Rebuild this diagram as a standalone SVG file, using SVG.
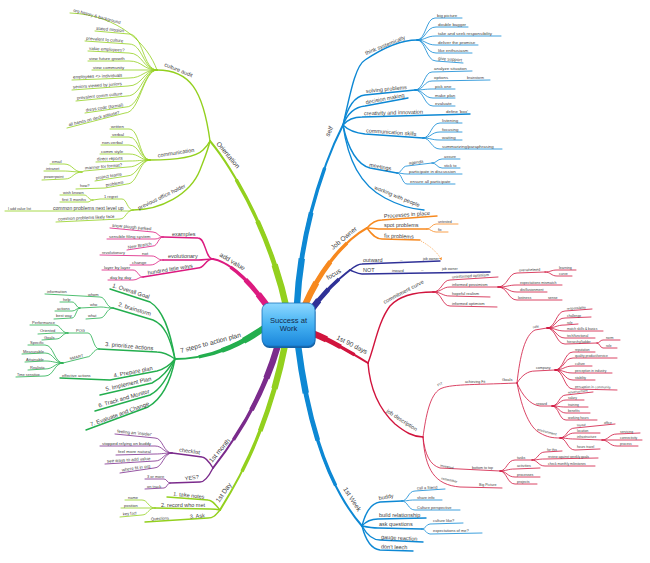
<svg xmlns="http://www.w3.org/2000/svg" width="650" height="563" viewBox="0 0 650 563">
<defs>
<style>
text{font-family:"Liberation Sans",Arial,sans-serif;fill:#404040}
.m{font-size:6.6px}.s{font-size:5.5px}.s6{font-size:5.8px}.l{font-size:4.4px}.k{font-size:4px}.x{font-size:3.6px}.y{font-size:3.3px}
path{fill:none}
.lg{stroke:#93d01e}.mg{stroke:#dc1a7f}.gr{stroke:#23ae4e}.pu{stroke:#7b2b8c}.bl{stroke:#0d88d4}.or{stroke:#f7891f}.nv{stroke:#2f3197}.rd{stroke:#d1143d}
.lf{stroke-width:0.8;stroke-linecap:round}
.sb{stroke-width:1.4;stroke-linecap:round}
.w1{stroke-width:2;stroke-linecap:round}
.w2{stroke-width:3.4;stroke-dasharray:0 25 75}
.w3{stroke-width:4.8;stroke-dasharray:0 50 50}
.w4{stroke-width:6.4;stroke-dasharray:0 75 25}
.af{fill:#f7891f;stroke:none}
.ctr{font-size:7.6px;fill:#12294a;text-anchor:middle}
</style>
<linearGradient id="gC" x1="0" y1="0" x2="0" y2="1">
<stop offset="0" stop-color="#8fd8ff"/><stop offset="0.5" stop-color="#45b2f2"/><stop offset="1" stop-color="#1b86db"/>
</linearGradient>
<marker id="ar" viewBox="0 0 4 4" refX="2" refY="2" markerWidth="3" markerHeight="3" markerUnits="userSpaceOnUse" orient="auto"><path class="af" d="M0,0 L4,2 L0,4 z"/></marker>
<path id="mOr" pathLength="100" d="M 210,141 C 230,165 270,230 287,310"/>
<path id="mAv" pathLength="100" d="M 213,259 C 228,262 248,278 270,310"/>
<path id="mSt" pathLength="100" d="M 175,359 C 200,359 230,352 264,328"/>
<path id="mMo" pathLength="100" d="M 213,468 C 235,440 262,400 278,345"/>
<path id="mDa" pathLength="100" d="M 220,510 C 245,470 270,420 285,345"/>
<path id="mSe" pathLength="100" d="M 343,125 C 320,170 300,240 297,305"/>
<path id="mJo" pathLength="100" d="M 367,228 C 345,240 320,270 305,305"/>
<path id="mFo" pathLength="100" d="M 350,270 C 340,278 325,290 310,312"/>
<path id="mNd" pathLength="100" d="M 368,363 C 350,352 330,340 312,333"/>
<path id="mWk" pathLength="100" d="M 362,526 C 335,495 310,440 298,345"/>
</defs>
<rect width="650" height="563" fill="#ffffff"/>
<g id="connectors">
<g id="main-branches">
<use href="#mOr" class="lg w1"/><use href="#mOr" class="lg w2"/><use href="#mOr" class="lg w3"/><use href="#mOr" class="lg w4"/>
<use href="#mAv" class="mg w1"/><use href="#mAv" class="mg w2"/><use href="#mAv" class="mg w3"/><use href="#mAv" class="mg w4"/>
<use href="#mSt" class="gr w1"/><use href="#mSt" class="gr w2"/><use href="#mSt" class="gr w3"/><use href="#mSt" class="gr w4"/>
<use href="#mMo" class="pu w1"/><use href="#mMo" class="pu w2"/><use href="#mMo" class="pu w3"/><use href="#mMo" class="pu w4"/>
<use href="#mDa" class="lg w1"/><use href="#mDa" class="lg w2"/><use href="#mDa" class="lg w3"/><use href="#mDa" class="lg w4"/>
<use href="#mSe" class="bl w1"/><use href="#mSe" class="bl w2"/><use href="#mSe" class="bl w3"/><use href="#mSe" class="bl w4"/>
<use href="#mJo" class="or w1"/><use href="#mJo" class="or w2"/><use href="#mJo" class="or w3"/><use href="#mJo" class="or w4"/>
<use href="#mFo" class="nv w1"/><use href="#mFo" class="nv w2"/><use href="#mFo" class="nv w3"/><use href="#mFo" class="nv w4"/>
<use href="#mNd" class="rd w1"/><use href="#mNd" class="rd w2"/><use href="#mNd" class="rd w3"/><use href="#mNd" class="rd w4"/>
<use href="#mWk" class="bl w1"/><use href="#mWk" class="bl w2"/><use href="#mWk" class="bl w3"/><use href="#mWk" class="bl w4"/>
</g>
<g class="lg sb">
<path d="M 157,70 C 190,70 203,90 210,141"/>
<path d="M 150,160 C 175,160 195,158 203,150 C 207,146 209,143 210,141"/>
<path d="M 133,210 C 160,210 190,195 200,170 C 205,157 208,150 210,141"/>
<path d="M 220,510 C 215,504 212,500 208,500 L 167,497"/>
<path d="M 220,510 C 216,509 214,509 210,509 L 155,508"/>
<path d="M 220,510 C 215,516 213,518 208,518 L 145,522"/>
</g>
<g class="lg lf">
<path d="M 157,70 C 148,45 120,15 70,13"/>
<path d="M 157,70 C 143,70 143,34 129,34 L 95,31"/>
<path d="M 157,70 C 143,70 143,44 129,44 L 85,41"/>
<path d="M 157,70 C 143,70 143,53 129,53 L 88,51"/>
<path d="M 157,70 C 143,70 143,61 129,61 L 88,61"/>
<path d="M 157,70 L 92,70"/>
<path d="M 157,70 C 143,70 143,78 129,78 L 72,80"/>
<path d="M 157,70 C 143,70 143,86 128,86 L 72,90"/>
<path d="M 157,70 C 143,70 142,96 127,96 L 76,101"/>
<path d="M 157,70 C 143,70 141,107 126,107 L 85,113"/>
<path d="M 157,70 C 143,70 140,113 125,113 L 67,128"/>
<path d="M 150,160 C 139,160 140,129 129,129 L 110,129"/>
<path d="M 150,160 C 139,160 140,137 129,137 L 111,137"/>
<path d="M 150,160 C 139,160 140,145 129,145 L 101,145"/>
<path d="M 150,160 C 139,160 140,154 129,154 L 100,154"/>
<path d="M 150,160 C 139,160 140,161 129,161 L 96,162"/>
<path d="M 150,160 C 139,160 139,167 128,167 L 84,171 L 82,172"/>
<path d="M 150,160 C 139,160 138,176 127,176 L 95,181"/>
<path d="M 150,160 C 139,160 138,184 127,184 L 105,188 L 76,189"/>
<path d="M 82,172 C 73,172 73,164 64,164 L 50,164"/>
<path d="M 82,172 C 72,172 72,171 62,171 L 44,171"/>
<path d="M 82,172 C 73,172 73,179 65,179 L 42,180"/>
<path d="M 133,210 C 127,210 127,199 122,199 L 100,199 L 93,200"/>
<path d="M 93,200 C 88,200 88,195 84,195 L 60,195"/>
<path d="M 93,200 C 90,200 90,202 88,202 L 60,202"/>
<path d="M 133,210 L 130,211 L 5,211"/>
<path d="M 133,210 C 126,210 126,219 120,219 L 56,222"/>
<path d="M 155,508 C 148,508 148,500 142,500 L 125,500"/>
<path d="M 155,508 L 121,508"/>
<path d="M 155,508 C 148,508 148,515 142,515 L 120,517"/>
</g>
<g class="mg sb">
<path d="M 213,259 C 205,259 206,238 198,238 L 163,237"/>
<path d="M 213,259 C 206,259 205,260 198,260 L 163,260"/>
<path d="M 213,259 C 205,259 205,268 198,268 L 143,277"/>
</g>
<g class="mg lf">
<path d="M 163,237 C 158,237 158,232 153,232 L 110,228"/>
<path d="M 163,237 C 159,237 159,239 155,239 L 107,239"/>
<path d="M 163,237 C 158,237 158,246 153,246 L 127,250"/>
<path d="M 163,260 C 157,260 157,256 152,256 L 100,255"/>
<path d="M 163,260 C 157,260 157,265 150,265 L 130,265"/>
<path d="M 143,277 C 138,277 138,270 133,270 L 102,270"/>
<path d="M 143,277 C 138,277 138,280 133,280 L 108,280"/>
</g>
<g class="gr sb">
<path d="M 175,359 C 170,330 163,310 150,302 L 110,289"/>
<path d="M 175,359 C 170,338 165,325 153,320 L 113,308"/>
<path d="M 175,359 C 168,354 163,352 157,352 L 99,349"/>
<path d="M 175,359 C 170,365 165,369 157,371 L 110,380 L 60,378"/>
<path d="M 175,359 C 168,370 162,378 152,383 L 100,395"/>
<path d="M 175,359 C 168,378 160,390 150,395 L 95,411"/>
<path d="M 175,359 C 170,385 160,400 148,407 L 86,430"/>
</g>
<g class="gr lf">
<path d="M 113,308 C 106,308 106,297 100,297 L 45,294"/>
<path d="M 113,308 C 106,308 106,307 100,307 L 80,308"/>
<path d="M 80,308 C 76,308 76,302 72,302 L 60,302"/>
<path d="M 80,308 C 76,308 76,311 72,311 L 55,311"/>
<path d="M 80,308 C 76,308 76,318 72,318 L 54,319"/>
<path d="M 113,308 C 106,308 106,318 100,318 L 86,319"/>
<path d="M 99,349 C 93,349 93,333 88,333 L 68,333"/>
<path d="M 68,333 C 61,333 61,325 55,325 L 30,325"/>
<path d="M 68,333 L 55,333 L 38,334"/>
<path d="M 68,333 C 62,333 62,339 56,339 L 42,340"/>
<path d="M 99,349 C 93,349 92,357 87,357 L 63,363"/>
<path d="M 63,363 C 54,363 54,345 45,345 L 28,345"/>
<path d="M 63,363 C 54,363 54,353 45,353 L 22,354"/>
<path d="M 63,363 C 54,363 54,361 45,361 L 25,362"/>
<path d="M 63,363 C 54,363 54,369 45,369 L 28,370"/>
<path d="M 63,363 C 54,363 54,376 45,376 L 16,377"/>
</g>
<g class="pu sb">
<path d="M 213,468 C 208,460 205,457 202,457 L 172,453"/>
<path d="M 213,468 C 209,476 205,482 200,482 L 170,483"/>
</g>
<g class="pu lf">
<path d="M 172,453 C 163,453 163,438 155,438 L 115,434"/>
<path d="M 172,453 C 163,453 163,446 155,446 L 100,446"/>
<path d="M 172,453 C 163,453 163,454 155,454 L 116,455"/>
<path d="M 172,453 C 163,453 163,461 155,461 L 105,464"/>
<path d="M 172,453 C 163,453 163,468 154,468 L 120,473"/>
<path d="M 170,483 C 167,483 167,479 164,479 L 145,479"/>
<path d="M 170,483 C 167,483 167,488 164,488 L 145,489"/>
</g>
<g class="bl sb">
<path d="M 343,125 C 350,95 355,66 365,60 C 380,50 400,40 417,40"/>
<path d="M 343,125 C 348,105 355,96 365,95 L 415,90"/>
<path d="M 343,125 C 348,112 355,107 365,106 L 408,98"/>
<path d="M 343,125 C 348,119 355,117 362,117 L 470,114"/>
<path d="M 343,125 C 348,130 355,133 365,134 L 423,138"/>
<path d="M 343,125 C 348,150 358,165 370,168 L 397,173"/>
<path d="M 343,125 C 348,160 360,185 385,198 C 398,205 410,209 424,210"/>
<path d="M 362,526 C 366,510 372,503 380,502 L 402,501"/>
<path d="M 362,526 C 367,520 372,519 378,519 L 426,518"/>
<path d="M 362,526 C 367,527 372,528 378,528 L 422,529"/>
<path d="M 362,526 C 367,535 372,540 380,540 L 423,542"/>
<path d="M 362,526 C 366,542 372,549 380,550 L 413,551"/>
</g>
<g class="bl lf">
<path d="M 417,40 C 426,40 426,18 435,18 L 462,18"/>
<path d="M 417,40 C 426,40 426,27 436,27 L 468,27"/>
<path d="M 417,40 C 426,40 426,36 436,36 L 501,36"/>
<path d="M 417,40 C 426,40 426,45 436,45 L 478,45"/>
<path d="M 417,40 C 426,40 426,53 436,53 L 472,53"/>
<path d="M 417,40 C 426,40 426,61 436,61 L 463,63"/>
<path d="M 415,90 C 424,90 424,72 432,72 L 472,71"/>
<path d="M 415,90 C 424,90 424,81 432,81 L 490,80"/>
<path d="M 415,90 C 424,90 424,89 433,89 L 455,89"/>
<path d="M 415,90 C 424,90 424,98 433,98 L 455,98"/>
<path d="M 415,90 C 424,90 424,106 433,106 L 455,106"/>
<path d="M 423,138 C 431,138 431,123 440,123 L 462,123"/>
<path d="M 423,138 C 431,138 431,132 440,132 L 462,132"/>
<path d="M 423,138 C 431,138 431,140 440,140 L 462,140"/>
<path d="M 423,138 C 431,138 431,149 440,149 L 502,149"/>
<path d="M 397,173 C 402,173 402,166 407,166 L 432,163"/>
<path d="M 432,163 C 437,163 437,159 442,159 L 460,159"/>
<path d="M 432,163 C 437,163 437,168 442,168 L 460,168"/>
<path d="M 397,173 C 402,173 402,174 407,174 L 462,174"/>
<path d="M 397,173 C 402,173 402,184 407,184 L 455,184"/>
<path d="M 402,501 C 408,501 408,491 415,491 L 445,489"/>
<path d="M 402,501 C 408,501 408,500 415,500 L 442,500"/>
<path d="M 402,501 C 408,501 408,510 415,510 L 460,510"/>
<path d="M 422,529 C 426,529 426,524 430,524 L 463,523"/>
<path d="M 422,529 C 426,529 426,534 430,534 L 482,533"/>
</g>
<g class="or sb">
<path d="M 367,228 C 372,222 376,220 382,220 L 437,216"/>
<path d="M 367,228 C 372,228 376,229 382,229 L 427,229"/>
<path d="M 367,228 C 372,235 376,239 382,239 L 420,240"/>
</g>
<g class="or lf">
<path d="M 427,229 C 431,229 432,224 436,224 L 458,224"/>
<path d="M 427,229 C 431,229 432,232 436,232 L 448,232"/>
</g>
<path class="or" d="M 421,241 C 430,246 437,252 441,259" stroke-width="0.6" stroke-dasharray="1.2 1" marker-end="url(#ar)"/>
<g class="nv sb">
<path d="M 350,270 C 355,266 358,264 362,264 L 440,261"/>
<path d="M 350,270 C 355,272 358,274 362,274 L 490,272"/>
</g>
<g class="rd sb">
<path d="M 368,363 C 375,345 378,322 390,306 C 400,295 415,292 433,292"/>
<path d="M 368,363 C 370,390 380,410 395,424 C 405,432 413,437 423,437"/>
</g>
<g class="rd lf">
<path d="M 433,292 C 442,292 442,280 450,280 L 498,277"/>
<path d="M 433,292 C 442,292 442,287 450,287 L 498,287"/>
<path d="M 433,292 C 442,292 442,296 450,296 L 490,297"/>
<path d="M 433,292 C 442,292 442,306 450,306 L 497,307"/>
<path d="M 498,287 C 508,287 508,273 517,273 L 545,272"/>
<path d="M 545,272 C 551,272 551,270 557,270 L 576,270"/>
<path d="M 545,272 C 551,272 551,276 557,276 L 572,276"/>
<path d="M 498,287 C 508,287 508,285 517,285 L 562,285"/>
<path d="M 498,287 C 508,287 508,292 517,292 L 547,292"/>
<path d="M 498,287 C 508,287 508,300 517,300 L 562,300"/>
<path d="M 423,437 C 426,415 430,395 440,389 C 450,384 470,385 517,383"/>
<path d="M 517,383 C 520,355 525,335 535,330 L 547,328"/>
<path d="M 547,328 C 556,328 556,311 565,311 L 592,309"/>
<path d="M 547,328 C 556,328 556,318 565,318 L 591,317"/>
<path d="M 547,328 C 556,328 556,325 565,325 L 578,324"/>
<path d="M 547,328 C 556,328 556,331 565,331 L 603,331"/>
<path d="M 547,328 C 556,328 556,338 565,338 L 595,338"/>
<path d="M 547,328 C 556,328 556,344 565,344 L 597,343"/>
<path d="M 597,343 C 600,343 600,340 603,340 L 620,340"/>
<path d="M 597,343 C 600,343 600,348 603,348 L 617,348"/>
<path d="M 517,383 C 522,375 528,371 535,371 L 555,370"/>
<path d="M 555,370 C 564,370 564,352 573,352 L 595,352"/>
<path d="M 555,370 C 564,370 564,358 573,358 L 617,358"/>
<path d="M 555,370 C 564,370 564,366 573,366 L 592,366"/>
<path d="M 555,370 C 564,370 564,373 573,373 L 612,373"/>
<path d="M 555,370 C 564,370 564,380 573,380 L 595,380"/>
<path d="M 555,370 C 564,370 564,389 573,389 L 617,390"/>
<path d="M 517,383 C 522,395 530,405 540,406 L 552,406"/>
<path d="M 552,406 C 559,406 559,395 566,395 L 593,392"/>
<path d="M 552,406 C 559,406 559,400 566,400 L 584,400"/>
<path d="M 552,406 C 559,406 559,407 566,407 L 588,407"/>
<path d="M 552,406 C 559,406 559,413 566,413 L 590,413"/>
<path d="M 552,406 C 559,406 559,420 566,420 L 597,420"/>
<path d="M 517,383 C 522,410 530,428 540,433 C 547,437 552,438 560,438"/>
<path d="M 560,438 C 567,438 567,428 575,428 L 615,424"/>
<path d="M 560,438 C 567,438 567,433 575,433 L 600,433"/>
<path d="M 560,438 C 567,438 567,439 575,439 L 602,440"/>
<path d="M 602,440 C 609,440 609,434 617,434 L 640,433"/>
<path d="M 602,440 L 642,440"/>
<path d="M 602,440 C 609,440 609,446 617,446 L 638,446"/>
<path d="M 560,438 C 567,438 567,450 575,450 L 600,449"/>
<path d="M 423,437 C 425,455 430,465 440,468 L 500,471"/>
<path d="M 500,471 C 507,471 507,460 515,460 L 532,460"/>
<path d="M 532,460 C 538,460 538,452 545,452 L 562,451"/>
<path d="M 532,460 C 538,460 538,459 545,459 L 598,458"/>
<path d="M 532,460 C 538,460 538,466 545,466 L 595,466"/>
<path d="M 500,471 C 507,471 507,469 515,469 L 540,468"/>
<path d="M 500,471 C 507,471 507,477 515,477 L 540,477"/>
<path d="M 500,471 C 507,471 507,484 515,484 L 537,484"/>
<path d="M 423,437 C 425,470 435,485 460,487 L 502,488"/>
</g>
</g>
<g id="node-center">
<rect x="262.5" y="305" width="53" height="43" rx="7" fill="#1462a6"/>
<rect x="262" y="303" width="53" height="43" rx="7" fill="url(#gC)" stroke="#1a73bd" stroke-width="0.8"/>
<text class="ctr" x="288.5" y="322.5">Success at</text>
<text class="ctr" x="288.5" y="331">Work</text>
</g>
<g id="node-orientation">
<text class="m" transform="translate(216 144) rotate(50)">Orientation</text>
<text class="s" transform="translate(164 66) rotate(22)">culture audit</text>
<text class="s" transform="translate(158 157.5) rotate(-9)">communication</text>
<text class="s" transform="translate(139 210) rotate(-26)">previous office holder</text>
<text class="l" transform="translate(73 11.5) rotate(15)">org history &amp; background</text>
<text class="l" transform="translate(96 29.7) rotate(5)">stated mission</text>
<text class="l" transform="translate(86 39.7) rotate(4)">prevalent to culture</text>
<text class="l" transform="translate(89 49.8) rotate(3)">value employees?</text>
<text class="l" x="89" y="59.7">view future growth</text>
<text class="l" x="93" y="68.7">view community</text>
<text class="l" transform="translate(73 78.5) rotate(-2)">employees &lt;&gt; individuals</text>
<text class="l" transform="translate(73 88.5) rotate(-4)">seniors viewed by juniors</text>
<text class="l" transform="translate(77 99.5) rotate(-5.6)">prevalent comm culture</text>
<text class="l" transform="translate(86 111.5) rotate(-8)">dress code (formal)</text>
<text class="l" transform="translate(69 126.3) rotate(-14)">all hands on deck attitude?</text>
<text class="l" x="111" y="127.7">written</text>
<text class="l" x="112" y="135.7">verbal</text>
<text class="l" x="102" y="143.7">non-verbal</text>
<text class="l" x="101" y="152.7">comm style</text>
<text class="l" transform="translate(97 160.5) rotate(-1.7)">direct reports</text>
<text class="l" transform="translate(85 169.6) rotate(-5)">manner for format?</text>
<text class="l" transform="translate(96 179.5) rotate(-9)">project teams</text>
<text class="l" transform="translate(106 186.6) rotate(-10)">problems</text>
<text class="k" x="80" y="187.4">how?</text>
<text class="k" x="52" y="162.7">email</text>
<text class="k" x="46" y="169.7">intranet</text>
<text class="k" x="44" y="178.4">powerpoint</text>
<text class="k" x="104" y="197.6">1 regret</text>
<text class="k" x="63" y="193.7">wish known</text>
<text class="k" x="62" y="200.7">first 3 months</text>
<text class="s" style="font-size:5px" x="53" y="209.6">common problems next level up</text>
<text class="x" x="8" y="209.7">I add value list</text>
<text class="l" transform="translate(58 220.5) rotate(-2.7)">common problems likely face</text>
</g>
<g id="node-add-value">
<text class="m" transform="translate(219 256) rotate(31)">add value</text>
<text class="s" x="172" y="236">examples</text>
<text class="s" x="168" y="258.3">evolutionary</text>
<text class="s" transform="translate(148 274.8) rotate(-9.3)">hundred little ways</text>
<text class="l" transform="translate(112 226.7) rotate(5.3)">snow plough parked</text>
<text class="l" x="109" y="237.7">sensible filing system</text>
<text class="l" transform="translate(128 248.7) rotate(-8.8)">New Branch</text>
<text class="l" x="142" y="254.5">not</text>
<text class="k" x="102" y="253.6">revolutionary</text>
<text class="l" x="132" y="263.6">change</text>
<text class="l" x="104" y="268.7">layer by layer</text>
<text class="l" x="110" y="278.7">day by day</text>
</g>
<g id="node-7-steps">
<text class="m" transform="translate(181 353) rotate(-15)">7 steps to action plan</text>
<text class="s6" transform="translate(112 287) rotate(18)">1. Overall Goal</text>
<text class="s6" transform="translate(118 306) rotate(17)">2. brainstorm</text>
<text class="s6" transform="translate(105 346) rotate(5)">3. prioritize actions</text>
<text class="s6" transform="translate(114 377.5) rotate(-11)">4. Prepare plan</text>
<text class="s6" transform="translate(106 391) rotate(-13)">5. Implement Plan</text>
<text class="s6" transform="translate(99 407.5) rotate(-16)">6. Track and Monitor</text>
<text class="s6" transform="translate(91 426.5) rotate(-20)">7. Evaluate and Change</text>
<text class="k" x="88" y="295.5">whom</text>
<text class="k" x="47" y="292.7">information</text>
<text class="k" x="90" y="305.7">who</text>
<text class="k" x="63" y="300.7">help</text>
<text class="k" x="57" y="309.7">actions</text>
<text class="k" x="56" y="317">best way</text>
<text class="k" x="88" y="317.2">what</text>
<text class="k" x="76" y="331.6">POG</text>
<text class="k" x="32" y="323.7">Performance</text>
<text class="k" x="40" y="332.4">Oriented</text>
<text class="k" x="44" y="338.6">Goals</text>
<text class="k" transform="translate(70 360.2) rotate(-14)">SMART</text>
<text class="k" x="30" y="343.7">Specific</text>
<text class="k" x="23" y="352.5">Measurable</text>
<text class="k" x="26" y="360.5">Attainable</text>
<text class="k" x="30" y="368.5">Realistic</text>
<text class="x" x="17" y="375.6">Time sensitive</text>
<text class="k" x="62" y="376.6">effective actions</text>
</g>
<g id="node-1st-month">
<text class="m" transform="translate(212 463) rotate(-50)">1st month</text>
<text class="s" transform="translate(179 451.5) rotate(8)">checklist</text>
<text class="s" transform="translate(185 480.5) rotate(-8)">YES?</text>
<text class="l" transform="translate(117 432.6) rotate(5.7)">feeling an 'insider'</text>
<text class="l" x="102" y="444.6">stopped relying on buddy</text>
<text class="l" x="118" y="453.2">feel more natural</text>
<text class="l" transform="translate(107 462.6) rotate(-3.4)">see ways to add value</text>
<text class="l" transform="translate(122 471.4) rotate(-8)">where fit in org</text>
<text class="k" x="147" y="477.6">3 or more</text>
<text class="k" x="147" y="487.5">on track</text>
</g>
<g id="node-1st-day">
<text class="m" transform="translate(219 503) rotate(-55)">1st Day</text>
<text class="s" transform="translate(173 495.5) rotate(6)">1. take notes</text>
<text class="s" x="161" y="506.5">2. record who met</text>
<text class="s" transform="translate(190 518.6) rotate(-5)">3. Ask</text>
<text class="k" transform="translate(151 520.4) rotate(-3.6)">Questions</text>
<text class="k" x="128" y="498.6">name</text>
<text class="k" x="124" y="506.6">position</text>
<text class="k" transform="translate(123 515.4) rotate(-5)">key fact</text>
</g>
<g id="node-self">
<text class="m" transform="translate(329 137) rotate(-65)">self</text>
<text class="s" transform="translate(366 55) rotate(-22)">think systemically</text>
<text class="s" transform="translate(366 93) rotate(-5.7)">solving problems</text>
<text class="s" transform="translate(366 104.2) rotate(-10.5)">decision making</text>
<text class="s" transform="translate(364 115.3) rotate(-1.6)">creativity and innovation</text>
<text class="s" transform="translate(366 132.3) rotate(4)">communication skills</text>
<text class="s" transform="translate(369 166.5) rotate(10.5)">meetings</text>
<text class="s" transform="translate(374 189) rotate(22)">working with people</text>
<text class="l" x="437" y="16.6">big picture</text>
<text class="l" x="438" y="25.6">double bagger</text>
<text class="l" x="438" y="34.6">take and seek responsibility</text>
<text class="l" x="438" y="43.6">deliver the promise</text>
<text class="l" x="438" y="51.6">like enthusiasm</text>
<text class="l" transform="translate(438 59.8) rotate(4)">give support</text>
<text class="l" x="434" y="70.3">analyze situation</text>
<text class="l" x="434" y="79.4">options</text>
<text class="x" x="467" y="78.6">brainstorm</text>
<text class="l" x="435" y="87.6">pick one</text>
<text class="l" x="435" y="96.6">make plan</text>
<text class="l" x="435" y="104.6">evaluate</text>
<text class="l" x="446" y="112.6">define 'box'</text>
<text class="l" x="442" y="121.6">listening</text>
<text class="l" x="442" y="130.6">focusing</text>
<text class="l" x="442" y="138.6">waiting</text>
<text class="l" x="442" y="147.6">summarizing/paraphrasing</text>
<text class="l" transform="translate(409 164.6) rotate(-7)">agenda</text>
<text class="k" x="444" y="157.6">assure</text>
<text class="k" x="444" y="166.6">stick to</text>
<text class="l" x="409" y="172.6">participate in discussion</text>
<text class="l" x="410" y="182.6">ensure all participate</text>
</g>
<g id="node-job-owner">
<text class="m" transform="translate(333 250) rotate(-40)">Job Owner</text>
<text class="s" transform="translate(384 218) rotate(-4)">Processes in place</text>
<text class="s" x="384" y="227.3">spot problems</text>
<text class="s" transform="translate(384 237.6) rotate(2)">fix problems</text>
<text class="x" x="438" y="222.6">untested</text>
<text class="x" x="438" y="230.6">fix</text>
</g>
<g id="node-focus">
<text class="m" transform="translate(328 280) rotate(-30)">focus</text>
<text class="s" x="363" y="262.3">outward</text>
<text class="s" x="363" y="272.4">NOT</text>
<text class="k" x="400" y="260.6">--</text>
<text class="x" x="423" y="259.6">job owner</text>
<text class="k" x="392" y="271.8">inward</text>
<text class="k" x="421" y="270.6">--</text>
<text class="x" x="442" y="270">job owner</text>
</g>
<g id="node-1st-90-days">
<text class="m" transform="translate(336 339) rotate(27)">1st 90 days</text>
<text class="s" transform="translate(384.5 304) rotate(-28)">commitment curve</text>
<text class="s" transform="translate(386 412) rotate(33)">job description</text>
<text class="k" transform="translate(452 278.4) rotate(-3.5)">uninformed optimism</text>
<text class="k" x="452" y="285.6">informed pessimism</text>
<text class="k" x="452" y="294.6">hopeful realism</text>
<text class="k" x="452" y="304.6">informed optimism</text>
<text class="x" transform="translate(519 271.4) rotate(-2)">overwhelmed</text>
<text class="x" x="559" y="268.8">learning</text>
<text class="x" x="559" y="274.8">curve</text>
<text class="x" x="520" y="283.6">expectations mismatch</text>
<text class="x" x="520" y="290.6">disillusionment</text>
<text class="x" x="518" y="298.6">lostness</text>
<text class="x" x="548" y="298.6">sense</text>
<text class="x" transform="translate(438 386.5) rotate(-25)">FIT</text>
<text class="x" x="465" y="382.6">achieving Fit</text>
<text class="k" x="502" y="381">Goals</text>
<text class="x" transform="translate(533 328.5) rotate(-12)">role</text>
<text class="y" transform="translate(567 309.8) rotate(-4)">responsibility</text>
<text class="y" x="567" y="316.7">challenge</text>
<text class="y" x="567" y="323.6">role</text>
<text class="y" x="567" y="329.8">match skills &amp; basics</text>
<text class="y" x="567" y="336.8">tech/functional</text>
<text class="y" x="567" y="342.6">hierarchy/ladder</text>
<text class="y" x="606" y="338.8">norm</text>
<text class="y" x="606" y="346.8">role</text>
<text class="x" x="536" y="369.4">company</text>
<text class="y" x="575" y="350.8">reputation</text>
<text class="y" x="575" y="356.8">quality product/service</text>
<text class="y" x="575" y="364.8">culture</text>
<text class="y" x="575" y="371.8">perception in industry</text>
<text class="y" x="575" y="378.8">stability</text>
<text class="y" transform="translate(575 387.8) rotate(1)">perception in community</text>
<text class="x" x="536" y="404.6">reward</text>
<text class="y" transform="translate(568 393.6) rotate(-6)">advancement</text>
<text class="y" x="568" y="398.8">salary</text>
<text class="y" x="568" y="405.8">training</text>
<text class="y" x="568" y="411.8">benefits</text>
<text class="y" x="568" y="418.8">working hours</text>
<text class="x" transform="translate(537 430.5) rotate(15)">environment</text>
<text class="y" transform="translate(577 426.4) rotate(-4)">layout</text>
<text class="y" x="604" y="423.6">office</text>
<text class="y" x="577" y="431.8">location</text>
<text class="y" x="577" y="437.8">infrastructure</text>
<text class="y" x="620" y="432.6">servicing</text>
<text class="y" x="620" y="438.8">connectivity</text>
<text class="y" x="620" y="444.8">process</text>
<text class="y" x="577" y="448.4">hours travel</text>
<text class="x" transform="translate(440 466.5) rotate(12)">invested</text>
<text class="x" x="472" y="468.8">bottom to top</text>
<text class="x" x="517" y="458.7">tasks</text>
<text class="y" x="547" y="450.6">for this</text>
<text class="y" x="548" y="457.6">review against weekly goals</text>
<text class="y" x="548" y="464.8">check monthly milestones</text>
<text class="x" x="517" y="467.4">activities</text>
<text class="x" x="517" y="475.8">processes</text>
<text class="x" x="517" y="482.8">projects</text>
<text class="x" transform="translate(441 479.5) rotate(12)">remember</text>
<text class="x" x="479" y="486.4">Big Picture</text>
</g>
<g id="node-1st-week">
<text class="m" transform="translate(343 489) rotate(57)">1st Week</text>
<text class="s" transform="translate(379 500) rotate(-10)">buddy</text>
<text class="s" x="379" y="517.2">build relationship</text>
<text class="s" x="379" y="526.3">ask questions</text>
<text class="s" transform="translate(381 538.8) rotate(3)">gauge reaction</text>
<text class="s" transform="translate(381 548.5) rotate(2)">don't leech</text>
<text class="k" transform="translate(417 489.6) rotate(-3)">call a friend</text>
<text class="k" x="417" y="498.6">share info</text>
<text class="k" x="417" y="508.6">Culture perspective</text>
<text class="k" x="433" y="522.4">culture like?</text>
<text class="k" x="433" y="531.6">expectations of me?</text>
</g>
</svg>
